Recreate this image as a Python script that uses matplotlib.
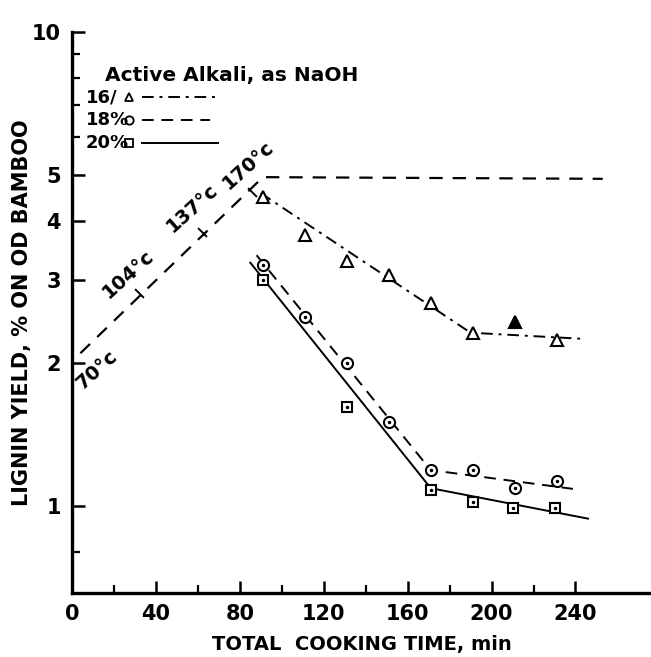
import matplotlib
matplotlib.use("Agg")
import matplotlib.pyplot as plt
from matplotlib.ticker import FixedLocator, NullFormatter, FixedFormatter
import numpy as np

# ---------------- data ----------------
# heating period (temperature rise) curve
heat_t = [4, 91, 253]
heat_y = [2.10, 4.94, 4.90]
# temperature markers on the heating curve
temp_labels = ["70°c", "104°c", "137°c", "170°c"]
temp_t = [4, 32, 62, 86]
temp_y = [2.10, 2.81, 3.78, 4.60]

# 16 % active alkali (triangles)
t16 = [91, 111, 131, 151, 171, 191, 211, 231]
y16 = [4.49, 3.73, 3.28, 3.07, 2.68, 2.32, 2.44, 2.24]
filled16 = [False, False, False, False, False, False, True, False]
fit16_t = [90, 190, 245]
fit16_y = [4.57, 2.32, 2.25]

# 18 % active alkali (circles)
t18 = [91, 111, 131, 151, 171, 191, 211, 231]
y18 = [3.22, 2.50, 2.00, 1.50, 1.19, 1.19, 1.09, 1.13]
fit18_t = [88, 171, 239]
fit18_y = [3.38, 1.19, 1.086]

# 20 % active alkali (squares)
t20 = [91, 131, 171, 191, 210, 230]
y20 = [3.00, 1.62, 1.08, 1.02, 0.99, 0.99]
fit20_t = [85, 171, 246]
fit20_y = [3.26, 1.09, 0.94]

x_major = [0, 40, 80, 120, 160, 200, 240]
x_minor = [20, 60, 100, 140, 180, 220]
y_major = [1, 2, 3, 4, 5, 10]
y_minor = [0.8, 6, 7, 8, 9]

# ---------------- figure ----------------
W, H = 651, 657
fig = plt.figure(figsize=(W / 100, H / 100), dpi=100)
ax = fig.add_axes([72 / W, 64 / H, 579 / W, 561 / H])
ax.set_yscale("log")
ax.set_xlim(0, 276)
ax.set_ylim(0.655, 10)

for s in ["top", "right"]:
    ax.spines[s].set_visible(False)
for s in ["left", "bottom"]:
    ax.spines[s].set_linewidth(2.4)

ax.xaxis.set_major_locator(FixedLocator(x_major))
ax.xaxis.set_minor_locator(FixedLocator(x_minor))
ax.yaxis.set_major_locator(FixedLocator(y_major))
ax.yaxis.set_minor_locator(FixedLocator(y_minor))
ax.yaxis.set_major_formatter(FixedFormatter([str(v) for v in y_major]))
ax.yaxis.set_minor_formatter(NullFormatter())
ax.tick_params(which="major", direction="in", length=9, width=1.8, pad=8,
               labelsize=15)
ax.tick_params(which="minor", direction="in", length=6, width=1.6)
for lab in ax.get_xticklabels() + ax.get_yticklabels():
    lab.set_fontweight("bold")

ax.set_xlabel("TOTAL  COOKING TIME, min", fontsize=14, fontweight="bold",
              labelpad=8)
ax.set_ylabel("LIGNIN YIELD, % ON OD BAMBOO", fontsize=15, fontweight="bold",
              va="center")
ax.yaxis.set_label_coords(-0.086, 0.5)

# heating curve
ax.plot(heat_t, heat_y, color="black", lw=1.6, dashes=(6, 4.5))
for lab, t, y in zip(temp_labels[1:], temp_t[1:], temp_y[1:]):
    ax.plot([t], [y], marker=(2, 0, 45), markersize=9, color="black", mew=1.4)
offs = [(12, -12), (-8, 14), (-7, 17), (-3, 19)]
for lab, t, y, (dx, dy) in zip(temp_labels, temp_t, temp_y, offs):
    ax.annotate(lab, (t, y), xytext=(dx, dy), textcoords="offset points",
                rotation=42, fontsize=14, fontweight="bold", ha="center",
                va="center")

# fitted lines
ax.plot(fit16_t, fit16_y, color="black", lw=1.4, dashes=(6, 3, 1.5, 3))
ax.plot(fit18_t, fit18_y, color="black", lw=1.4, dashes=(6, 4))
ax.plot(fit20_t, fit20_y, color="black", lw=1.4)

# points
for t, y, f in zip(t16, y16, filled16):
    ax.plot([t], [y], marker="^", markersize=8, mfc="black" if f else "white",
            mec="black", mew=1.5, ls="none", zorder=3)
ax.plot(t18, y18, marker="o", markersize=8, mfc="white", mec="black",
        mew=1.5, ls="none", zorder=3)
ax.plot(t20, y20, marker="s", markersize=7.5, mfc="white", mec="black",
        mew=1.5, ls="none", zorder=3)
ax.plot(t18 + t20, y18 + y20, marker=".", markersize=3, color="black",
        ls="none", zorder=4)

# legend (drawn manually)
def axfrac(px, py):
    return ((px - 72) / 579, (593 - py) / 561)

tx, ty = axfrac(105, 76)
ax.text(tx, ty, "Active Alkali, as NaOH", transform=ax.transAxes,
        fontsize=14.5, fontweight="bold", ha="left", va="center")
leg = [("16/", "^", (6, 3, 1.5, 3), 97, 215),
       ("18%", "o", (6, 4), 120, 210),
       ("20%", "s", None, 143, 218)]
for txt, mk, ds, py, xend in leg:
    x0, y0 = axfrac(86, py)
    ax.text(x0, y0, txt, transform=ax.transAxes, fontsize=13,
            fontweight="bold", ha="left", va="center")
    mx, my = axfrac(129, py)
    ax.plot([mx], [my], marker=mk, markersize=6, mfc="white", mec="black",
            mew=1.3, transform=ax.transAxes, clip_on=False)
    l0, _ = axfrac(142, py)
    l1, _ = axfrac(xend, py)
    if ds is None:
        ax.plot([l0, l1], [y0, y0], color="black", lw=1.4,
                transform=ax.transAxes)
    else:
        ax.plot([l0, l1], [y0, y0], color="black", lw=1.4, dashes=ds,
                transform=ax.transAxes)

fig.savefig("out.png", dpi=100)
